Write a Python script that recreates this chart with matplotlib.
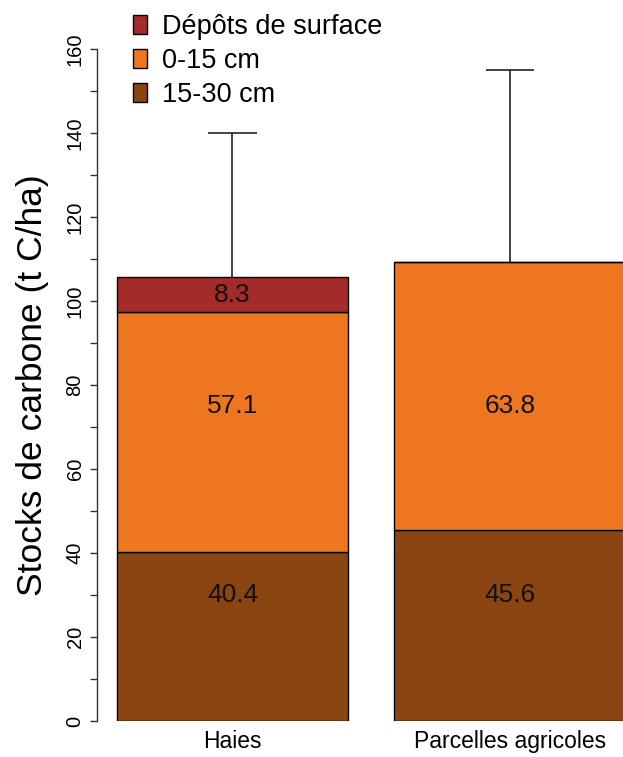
import numpy as np
import matplotlib.pyplot as plt
from matplotlib.patches import Patch

plt.rcParams['font.family'] = ['Liberation Sans', 'DejaVu Sans']

# carbon stocks per compartment (t C/ha)
sites = ["Haies", "Parcelles agricoles"]
layer_names = ["15-30 cm", "0-15 cm", "Dépôts de surface"]
layer_colors = ["#8B4513", "#EE7621", "#A52A2A"]
stock_15_30 = [40.4, 45.6]
stock_0_15 = [57.1, 63.8]
stock_surface = [8.3, 0.0]
err_upper = [34.2, 45.6]

# heights where the value labels sit
label_y = [30, 75, 101.6]

fig = plt.figure(figsize=(6.23, 7.57), dpi=100)
W, H = 623, 757
ax = fig.add_axes([97 / W, 1 - 721.3 / H, 526 / W, 672 / H])

x = np.array([0.7, 1.9])
layers = [stock_15_30, stock_0_15, stock_surface]
bottom = np.zeros(len(sites))
for vals, col in zip(layers, layer_colors):
    vals = np.array(vals)
    ax.bar(x, vals, width=1.0, bottom=bottom, color=col,
           edgecolor="black", linewidth=1.0, zorder=2)
    bottom = bottom + vals

# upper error bars only: stem + top cap
top = bottom + np.array(err_upper)
ax.vlines(x, bottom, top, color="#222222", linewidth=1.2, zorder=1)
ax.hlines(top, x - 0.104, x + 0.104, color="#222222", linewidth=1.2, zorder=1)

# value labels inside the segments
for i in range(len(sites)):
    for j, vals in enumerate(layers):
        if vals[i] > 0:
            ax.text(x[i], label_y[j], f"{vals[i]:.1f}", ha="center",
                    va="center", fontsize=19, color="#111111", zorder=3)

ax.set_xlim(0.2 - 20 / 231, 0.2 + 506 / 231)
ax.set_ylim(0, 160)

for s in ["top", "right", "bottom"]:
    ax.spines[s].set_visible(False)
ax.spines["left"].set_bounds(0, 160)
ax.spines["left"].set_linewidth(1.0)
ax.spines["left"].set_color("#333333")

ax.set_yticks(np.arange(0, 161, 20))
ax.set_yticks(np.arange(10, 160, 20), minor=True)
ax.tick_params(axis="y", which="both", length=5, width=1.0, color="#333333",
               labelsize=14.5, pad=4)
for lab in ax.get_yticklabels():
    lab.set_rotation(90)
    lab.set_va("center")

ax.set_xticks(x)
ax.set_xticklabels(sites, fontsize=16.5)
ax.tick_params(axis="x", length=0, pad=6)

ax.set_ylabel("Stocks de carbone (t C/ha)", fontsize=25.5)
ax.yaxis.set_label_coords(-0.092, 0.5)

handles = [Patch(facecolor=layer_colors[k], edgecolor="black", linewidth=1.0,
                 label=layer_names[k]) for k in [2, 1, 0]]
ax.legend(handles=handles, loc="upper left", frameon=False, fontsize=19.5,
          bbox_to_anchor=(133 / W, 1 - 14 / H), bbox_transform=fig.transFigure,
          borderpad=0, borderaxespad=0, handlelength=0.52, handleheight=0.68,
          handletextpad=0.55, labelspacing=0.3)

fig.savefig("out.png", dpi=100)
